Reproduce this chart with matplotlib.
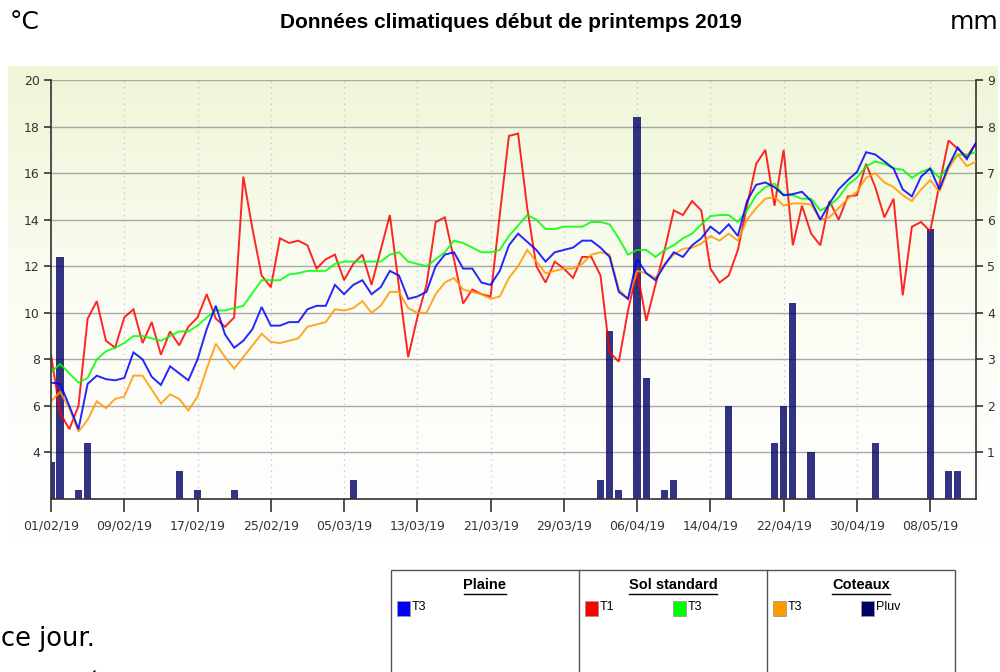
import matplotlib
matplotlib.use("Agg")
import matplotlib.pyplot as plt
import matplotlib.patches as mpatches
from matplotlib.colors import LinearSegmentedColormap
from matplotlib.lines import Line2D
import numpy as np
import pandas as pd

# daily values, 01/02/2019 -> 13/05/2019
dates = pd.date_range("2019-02-01", "2019-05-13", freq="D")

sol_t1 = [8.2, 5.7, 5.0, 6.0, 9.75, 10.5, 8.8, 8.5, 9.8, 10.15,
          8.7, 9.6, 8.2, 9.2, 8.6, 9.4, 9.8, 10.8, 9.75, 9.4,
          9.8, 15.85, 13.6, 11.6, 11.1, 13.2, 13.0, 13.1, 12.9, 11.9,
          12.3, 12.5, 11.4, 12.1, 12.5, 11.2, 12.7, 14.2, 11.1, 8.1,
          9.8, 11.2, 13.9, 14.1, 12.3, 10.4, 11.0, 10.8, 10.7, 14.2,
          17.6, 17.7, 14.5, 12.0, 11.3, 12.2, 11.9, 11.5, 12.4, 12.4,
          11.6, 8.3, 7.9, 10.1, 11.8, 9.65, 11.2, 12.7, 14.4, 14.2,
          14.8, 14.4, 11.9, 11.3, 11.6, 12.7, 14.6, 16.4, 17.0, 14.6,
          17.0, 12.9, 14.6, 13.4, 12.9, 14.8, 14.0, 15.0, 15.05, 16.4,
          15.4, 14.1, 14.9, 10.75, 13.7, 13.9, 13.5, 15.5, 17.4, 17.05,
          16.7, 17.3]

sol_t3 = [7.45, 7.8, 7.4, 7.0, 7.2, 8.0, 8.35, 8.5, 8.7, 9.0,
          9.0, 8.9, 8.8, 9.0, 9.2, 9.2, 9.45, 9.8, 10.1, 10.1,
          10.2, 10.3, 10.85, 11.4, 11.4, 11.4, 11.65, 11.7, 11.8, 11.8,
          11.8, 12.1, 12.2, 12.2, 12.2, 12.2, 12.2, 12.5, 12.6, 12.2,
          12.1, 12.0, 12.3, 12.6, 13.1, 13.0, 12.8, 12.6, 12.6, 12.7,
          13.3, 13.75, 14.2, 14.0, 13.6, 13.6, 13.7, 13.7, 13.7, 13.9,
          13.9, 13.8, 13.2, 12.5, 12.7, 12.7, 12.4, 12.7, 12.9, 13.2,
          13.4, 13.8, 14.15, 14.2, 14.2, 13.9, 14.4, 15.05, 15.4, 15.55,
          15.05, 15.05, 14.9, 14.9, 14.4, 14.6, 14.95, 15.5, 15.8, 16.3,
          16.5, 16.4, 16.2, 16.15, 15.8, 16.05, 16.2, 15.8, 16.3, 16.8,
          16.8, 16.9]

plaine_t3 = [7.0, 6.95, 6.0, 5.0, 6.95, 7.3, 7.15, 7.1, 7.2, 8.3,
             8.0, 7.25, 6.9, 7.7, 7.4, 7.1, 8.0, 9.3, 10.3, 9.07,
             8.5, 8.8, 9.3, 10.25, 9.45, 9.45, 9.6, 9.6, 10.15, 10.3,
             10.3, 11.2, 10.8, 11.2, 11.4, 10.8, 11.1, 11.8, 11.6, 10.6,
             10.7, 10.9, 12.0, 12.5, 12.6, 11.9, 11.9, 11.3, 11.2, 11.8,
             12.9, 13.4, 13.05, 12.7, 12.2, 12.6, 12.7, 12.8, 13.1, 13.1,
             12.8, 12.4, 10.9, 10.6, 12.3, 11.7, 11.4, 12.05, 12.6, 12.4,
             12.9, 13.2, 13.7, 13.4, 13.8, 13.3, 14.8, 15.5, 15.6, 15.4,
             15.05, 15.1, 15.2, 14.8, 14.0, 14.7, 15.3, 15.7, 16.05, 16.9,
             16.8, 16.5, 16.2, 15.3, 15.0, 15.85, 16.2, 15.3, 16.3, 17.1,
             16.6, 17.3]

coteaux_t3 = [6.2, 6.6, 5.9, 4.9, 5.4, 6.2, 5.9, 6.3, 6.4, 7.3,
              7.3, 6.7, 6.1, 6.5, 6.3, 5.8, 6.4, 7.6, 8.67, 8.1,
              7.6, 8.1, 8.6, 9.1, 8.75, 8.7, 8.8, 8.9, 9.4, 9.5,
              9.6, 10.15, 10.1, 10.2, 10.5, 10.0, 10.3, 10.9, 10.9, 10.2,
              10.0, 10.0, 10.8, 11.3, 11.5, 11.0, 10.9, 10.8, 10.6, 10.7,
              11.5, 12.0, 12.7, 12.2, 11.7, 11.8, 11.9, 11.9, 12.1, 12.5,
              12.6, 12.5, 11.0, 10.6, 11.8, 11.7, 11.5, 12.1, 12.5, 12.75,
              12.8, 12.97, 13.3, 13.1, 13.4, 13.1, 14.0, 14.5, 14.9, 14.98,
              14.6, 14.7, 14.7, 14.65, 14.0, 14.1, 14.5, 14.9, 15.2, 15.8,
              16.0, 15.6, 15.4, 15.05, 14.8, 15.3, 15.7, 15.2, 16.2, 16.8,
              16.3, 16.5]

# rainfall (mm), only the rainy days
pluv_dates = ["2019-02-01", "2019-02-02", "2019-02-04", "2019-02-05", "2019-02-15",
              "2019-02-17", "2019-02-21", "2019-03-06", "2019-04-02", "2019-04-03",
              "2019-04-04", "2019-04-06", "2019-04-07", "2019-04-09", "2019-04-10",
              "2019-04-16", "2019-04-21", "2019-04-22", "2019-04-23", "2019-04-25",
              "2019-05-02", "2019-05-08", "2019-05-10", "2019-05-11"]
pluv_mm = [0.8, 5.2, 0.2, 1.2, 0.6,
           0.2, 0.2, 0.4, 0.4, 3.6,
           0.2, 8.2, 2.6, 0.2, 0.4,
           2.0, 1.2, 2.0, 4.2, 1.0,
           1.2, 5.8, 0.6, 0.6]

left_ticks = [4, 6, 8, 10, 12, 14, 16, 18, 20]
right_ticks = [1, 2, 3, 4, 5, 6, 7, 8, 9]
date_ticks = dates[::8]

groups = ["Plaine", "Sol standard", "Coteaux"]
legend_items = [[("T3", "#0000ff")],
                [("T1", "#ff0000"), ("T3", "#00ff00")],
                [("T3", "#ff9900"), ("Pluv", "#000066")]]

fig = plt.figure(figsize=(10, 6.72), dpi=100)

# light green gradient panel behind the chart
bg = fig.add_axes([0.008, 0.196, 0.99, 0.706], zorder=-10)
cmap = LinearSegmentedColormap.from_list("panel", ["#ffffff", "#fbfdf4", "#eef6d6"])
bg.imshow(np.linspace(0, 1, 256).reshape(-1, 1), aspect="auto", cmap=cmap,
          origin="lower", extent=[0, 1, 0, 1])
bg.axis("off")

ax = fig.add_axes([0.051, 0.2574, 0.925, 0.6235])
ax2 = ax.twinx()
ax.set_zorder(ax2.get_zorder() + 1)
ax.patch.set_visible(False)
ax2.patch.set_visible(False)

# rainfall bars on the right axis
ax2.bar(pd.to_datetime(pluv_dates), pluv_mm, width=0.8, color="#000066",
        alpha=0.8, zorder=3, linewidth=0)
ax2.set_ylim(0, 9)
ax2.set_yticks(right_ticks)
ax2.grid(axis="y", color="#a8a8a8", linewidth=1.0, zorder=0)
ax2.xaxis.set_visible(True)
ax2.tick_params(axis="x", bottom=False, top=False, labelbottom=False, labeltop=False)
ax2.set_xticks(date_ticks)
ax2.grid(axis="x", color="#c8c8c8", linestyle=(0, (1, 3)), linewidth=1.0)

for values, colour in [(sol_t1, "#ff0000"), (sol_t3, "#00ff00"),
                       (coteaux_t3, "#ff9900"), (plaine_t3, "#0000ff")]:
    ax.plot(dates, values, color=colour, linewidth=1.4, alpha=0.85,
            solid_joinstyle="miter")

ax.set_ylim(2, 20)
ax.set_yticks(left_ticks)
ax.set_xlim(dates[0], dates[-1])
ax.set_xticks(date_ticks)
ax.set_xticklabels([d.strftime("%d/%m/%y") for d in date_ticks])

for a in (ax, ax2):
    a.spines["top"].set_visible(False)
    for s in a.spines.values():
        s.set_color("#333333")
        s.set_linewidth(1.2)
ax.spines["right"].set_visible(False)
ax2.spines["left"].set_visible(False)
ax2.spines["bottom"].set_visible(False)

ax.tick_params(axis="y", direction="out", length=5, width=1.2, color="#333333",
               labelsize=9, labelcolor="#333333", pad=3)
ax.tick_params(axis="x", direction="out", length=9, width=1.2, color="#333333",
               labelsize=9, labelcolor="#333333", pad=6)
ax2.tick_params(axis="y", direction="out", length=5, width=1.2, color="#333333",
                labelsize=9, labelcolor="#333333", pad=3)

# header texts
fig.text(0.511, 1 - 22 / 672, "Données climatiques début de printemps 2019",
         ha="center", va="center", fontsize=15, fontweight="bold",
         family="Liberation Sans")
fig.text(0.010, 1 - 22 / 672, "°C", ha="left", va="center", fontsize=18,
         family="DejaVu Sans")
fig.text(0.998, 1 - 22 / 672, "mm", ha="right", va="center", fontsize=18,
         family="DejaVu Sans")

# page text around the chart, the second line is cut by the frame
fig.text(0.001, 1 - 646 / 672, "ce jour.", ha="left", va="baseline", fontsize=18.5,
         family="DejaVu Sans")
fig.text(0.001, -19 / 672, "e température pour cette fin de", ha="left",
         va="baseline", fontsize=17, family="DejaVu Sans")

# legend table
box_left, box_right, box_top = 391, 955, 570
col_edges = [391, 579, 767, 955]
fig.add_artist(mpatches.Rectangle((box_left / 1000, -0.05),
                                  (box_right - box_left) / 1000,
                                  (672 - box_top) / 672 + 0.05,
                                  transform=fig.transFigure, fill=False,
                                  edgecolor="#555555", linewidth=1.0))
for xe in col_edges[1:-1]:
    fig.add_artist(Line2D([xe / 1000, xe / 1000], [-0.05, (672 - box_top) / 672],
                          transform=fig.transFigure, color="#555555", linewidth=1.0))

renderer = fig.canvas.get_renderer()
for i, name in enumerate(groups):
    cx = (col_edges[i] + col_edges[i + 1]) / 2 / 1000
    t = fig.text(cx, 1 - 585 / 672, name, ha="center", va="center", fontsize=10.5,
                 fontweight="bold", family="Liberation Sans")
    bb = t.get_window_extent(renderer)
    y_line = (bb.y0 - 1.5) / fig.bbox.height
    fig.add_artist(Line2D([bb.x0 / fig.bbox.width, bb.x1 / fig.bbox.width],
                          [y_line, y_line], transform=fig.transFigure,
                          color="black", linewidth=1.0))
    for j, (label, colour) in enumerate(legend_items[i]):
        sx = col_edges[i] + 6 + j * 88
        fig.add_artist(mpatches.Rectangle((sx / 1000, 1 - 616 / 672), 13 / 1000,
                                          15 / 672, transform=fig.transFigure,
                                          facecolor=colour, edgecolor="#9a9a9a",
                                          linewidth=0.6))
        fig.text((sx + 15) / 1000, 1 - 607 / 672, label, ha="left", va="center",
                 fontsize=9, family="Liberation Sans")

fig.savefig("out.png", dpi=100)
